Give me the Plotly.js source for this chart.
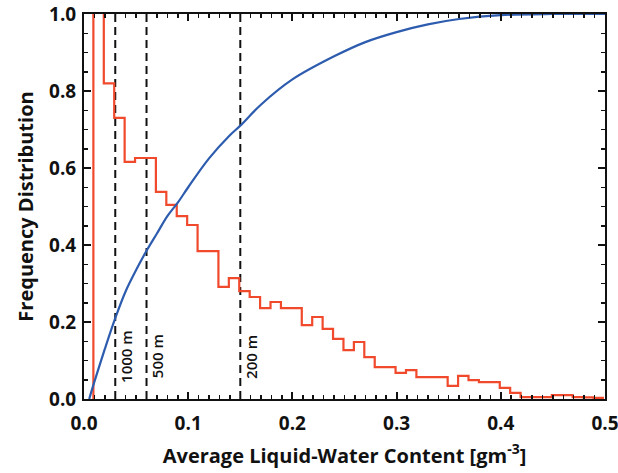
<!DOCTYPE html>
<html>
<head>
<meta charset="utf-8">
<script src="https://cdn.plot.ly/plotly-3.0.1.min.js"></script>
<style>
  body { margin: 0; background: #fff; }
  #chart { width: 618px; height: 473px; }
</style>
</head>
<body>
<div id="chart"></div>
<script>
// histogram bins (left edges, width 0.01) and frequencies
var binLeft = [0.009, 0.019, 0.029, 0.039, 0.049, 0.059, 0.069, 0.079, 0.089, 0.099,
               0.109, 0.119, 0.129, 0.139, 0.149, 0.159, 0.169, 0.179, 0.189, 0.199,
               0.209, 0.219, 0.229, 0.239, 0.249, 0.259, 0.269, 0.279, 0.289, 0.299,
               0.309, 0.319, 0.329, 0.339, 0.349, 0.359, 0.369, 0.379, 0.389, 0.399,
               0.409, 0.419, 0.429, 0.439, 0.449, 0.459, 0.469, 0.479, 0.489, 0.499];
var binFreq = [1.2, 0.82, 0.73, 0.616, 0.626, 0.626, 0.538, 0.504, 0.475, 0.452,
               0.384, 0.384, 0.291, 0.314, 0.28, 0.265, 0.236, 0.252, 0.236, 0.236,
               0.192, 0.213, 0.182, 0.156, 0.127, 0.148, 0.109, 0.083, 0.083, 0.068,
               0.075, 0.057, 0.057, 0.057, 0.034, 0.06, 0.049, 0.044, 0.044, 0.029,
               0.016, 0.005, 0.005, 0.005, 0.01, 0.01, 0.005, 0.004, 0.003, 0.003];

// cumulative distribution
var cumX = [0.005, 0.01, 0.02, 0.03, 0.04, 0.05, 0.06, 0.07, 0.08, 0.09, 0.10, 0.12,
            0.14, 0.15, 0.17, 0.20, 0.24, 0.27, 0.30, 0.33, 0.36, 0.40, 0.45, 0.50];
var cumY = [0, 0.045, 0.13, 0.21, 0.28, 0.335, 0.385, 0.43, 0.475, 0.51, 0.55, 0.625,
            0.685, 0.71, 0.765, 0.83, 0.89, 0.927, 0.953, 0.973, 0.987, 0.997, 1.0, 1.0];

// reference resolutions
var refX = [0.03, 0.06, 0.15];
var refLabels = ['1000 m', '500 m', '200 m'];

var tickX = [0, 0.1, 0.2, 0.3, 0.4, 0.5];
var tickXText = ['0.0', '0.1', '0.2', '0.3', '0.4', '0.5'];
var tickY = [0, 0.2, 0.4, 0.6, 0.8, 1.0];
var tickYText = ['0.0', '0.2', '0.4', '0.6', '0.8', '1.0'];

var histX = [binLeft[0]].concat(binLeft);
var histY = [0].concat(binFreq);

var traces = [];
refX.forEach(function (v) {
  traces.push({
    x: [v, v], y: [0, 1], mode: 'lines', hoverinfo: 'skip',
    line: { color: '#111', width: 2, dash: '8px,5px' }
  });
});
traces.push({
  x: histX, y: histY, mode: 'lines',
  line: { color: '#f0492c', width: 2.2, shape: 'hv' }
});
traces.push({
  x: cumX, y: cumY, mode: 'lines',
  line: { color: '#2d5cae', width: 2.2, shape: 'spline' }
});

var annotations = refX.map(function (v, i) {
  return {
    x: v, y: 0.11, xref: 'x', yref: 'y', text: refLabels[i],
    textangle: -90, showarrow: false, xshift: 10,
    font: { family: 'Open Sans', size: 15, weight: 600, color: '#111' }
  };
});

var tickFont = { family: 'Open Sans', size: 19, weight: 'bold', color: '#111' };
var titleFont = { family: 'Open Sans', size: 20, weight: 'bold', color: '#111' };

var layout = {
  width: 618, height: 473,
  margin: { l: 84, r: 13, t: 14, b: 74 },
  paper_bgcolor: '#fff', plot_bgcolor: '#fff',
  showlegend: false,
  xaxis: {
    range: [0, 0.5], tickvals: tickX, ticktext: tickXText,
    ticks: 'inside', ticklen: 7, tickwidth: 2, tickcolor: '#111',
    showline: true, linewidth: 2, linecolor: '#111', mirror: 'allticks',
    showgrid: false, zeroline: false, ticklabelstandoff: 6, ticklabeloverflow: 'allow',
    minor: { dtick: 0.01, ticks: 'inside', ticklen: 4, tickwidth: 1.5, tickcolor: '#111', showgrid: false },
    tickfont: tickFont,
    title: { text: 'Average Liquid-Water Content [gm<sup>-3</sup>]', font: titleFont, standoff: 14 }
  },
  yaxis: {
    range: [0, 1], tickvals: tickY, ticktext: tickYText,
    ticks: 'inside', ticklen: 7, tickwidth: 2, tickcolor: '#111',
    showline: true, linewidth: 2, linecolor: '#111', mirror: 'allticks',
    showgrid: false, zeroline: false, ticklabelstandoff: 2, ticklabeloverflow: 'allow',
    minor: { dtick: 0.05, ticks: 'inside', ticklen: 4, tickwidth: 1.5, tickcolor: '#111', showgrid: false },
    tickfont: tickFont,
    title: { text: 'Frequency Distribution', font: titleFont, standoff: 10 }
  },
  annotations: annotations
};

Plotly.newPlot('chart', traces, layout, { displayModeBar: false, staticPlot: true });
</script>
</body>
</html>
